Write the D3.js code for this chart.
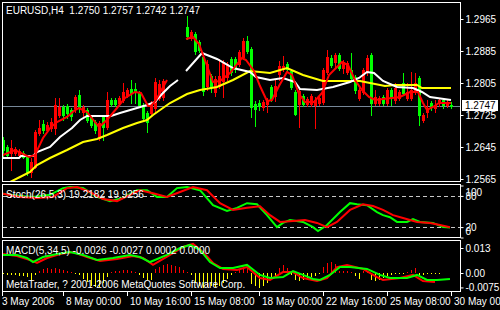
<!DOCTYPE html>
<head>
  <meta charset="utf-8">
  <script src="https://d3js.org/d3.v7.min.js"></script>
  <style>
    body { margin: 0; background: #000; }
    svg { display: block; background: #000; }
    text { font-family: "Liberation Sans", Arial, sans-serif; font-size: 10px; fill: #fff; white-space: pre; }
  </style>
</head>
<body>
  <svg width="500" height="310"></svg>
  <script>
    // EURUSD H4, one row per bar: [open, high, low, close], null = empty slot
    var candles = [
      [1.2638,1.2645,1.2630,1.2642],[1.2662,1.2670,1.2620,1.2637],[1.2645,1.2650,1.2622,1.2625],
      [1.2630,1.2662,1.2587,1.2642],[1.2630,1.2645,1.2625,1.2640],[1.2625,1.2640,1.2620,1.2635],
      [1.2630,1.2635,1.2617,1.2620],[1.2620,1.2625,1.2575,1.2582],[1.2582,1.2617,1.2570,1.2607],
      [1.2595,1.2687,1.2592,1.2682],[1.2680,1.2712,1.2675,1.2692],[1.2702,1.2712,1.2680,1.2687],
      [1.2687,1.2707,1.2682,1.2700],[1.2692,1.2717,1.2685,1.2707],[1.2692,1.2767,1.2677,1.2750],
      [1.2725,1.2767,1.2720,1.2745],[1.2745,1.2750,1.2712,1.2725],[1.2747,1.2752,1.2717,1.2730],
      [1.2737,1.2742,1.2712,1.2722],[1.2742,1.2775,1.2732,1.2770],[1.2775,1.2787,1.2732,1.2742],
      [1.2732,1.2750,1.2717,1.2745],[1.2737,1.2742,1.2707,1.2712],[1.2720,1.2725,1.2695,1.2700],
      [1.2707,1.2712,1.2680,1.2687],[1.2667,1.2710,1.2662,1.2705],[1.2720,1.2725,1.2662,1.2695],
      [1.2695,1.2782,1.2690,1.2762],[1.2762,1.2767,1.2747,1.2752],[1.2762,1.2767,1.2747,1.2752],
      [1.2755,1.2772,1.2750,1.2767],[1.2762,1.2805,1.2757,1.2782],[1.2775,1.2792,1.2770,1.2787],
      [1.2790,1.2812,1.2755,1.2780],[1.2790,1.2805,1.2755,1.2782],[1.2780,1.2785,1.2745,1.2750],
      [1.2750,1.2755,1.2712,1.2717],[1.2730,1.2735,1.2682,1.2707],[1.2730,1.2760,1.2725,1.2755],
      [1.2742,1.2817,1.2732,1.2807],[1.2767,1.2812,1.2762,1.2802],[1.2770,1.2815,1.2762,1.2810],
      null, null, null, null, null,
      [1.2945,1.2972,1.2915,1.2922],[1.2917,1.2937,1.2912,1.2932],[1.2927,1.2932,1.2877,1.2885],
      [1.2907,1.2912,1.2882,1.2887],[1.2870,1.2875,1.2775,1.2785],[1.2797,1.2862,1.2787,1.2852],
      [1.2822,1.2827,1.2782,1.2795],[1.2782,1.2822,1.2772,1.2815],[1.2797,1.2865,1.2792,1.2822],
      [1.2810,1.2862,1.2770,1.2857],[1.2820,1.2857,1.2812,1.2852],[1.2865,1.2870,1.2825,1.2832],
      [1.2865,1.2870,1.2832,1.2840],[1.2852,1.2887,1.2847,1.2882],[1.2870,1.2917,1.2865,1.2910],
      [1.2910,1.2922,1.2880,1.2885],[1.2890,1.2895,1.2720,1.2745],[1.2752,1.2760,1.2697,1.2740],
      [1.2755,1.2762,1.2737,1.2747],[1.2745,1.2762,1.2737,1.2757],[1.2752,1.2767,1.2732,1.2762],
      [1.2795,1.2800,1.2760,1.2765],[1.2772,1.2815,1.2760,1.2797],[1.2827,1.2860,1.2812,1.2847],
      [1.2840,1.2872,1.2835,1.2847],[1.2852,1.2857,1.2835,1.2840],[1.2835,1.2840,1.2790,1.2795],
      [1.2782,1.2787,1.2725,1.2727],[1.2752,1.2790,1.2695,1.2785],[1.2772,1.2777,1.2747,1.2752],
      [1.2752,1.2770,1.2747,1.2765],[1.2752,1.2777,1.2747,1.2772],[1.2750,1.2770,1.2692,1.2762],
      [1.2755,1.2772,1.2750,1.2767],[1.2757,1.2842,1.2752,1.2837],[1.2832,1.2887,1.2827,1.2870],
      [1.2867,1.2875,1.2845,1.2850],[1.2857,1.2880,1.2845,1.2875],[1.2875,1.2880,1.2837,1.2842],
      [1.2842,1.2862,1.2830,1.2857],[1.2832,1.2860,1.2827,1.2855],[1.2837,1.2880,1.2812,1.2817],
      [1.2820,1.2825,1.2780,1.2787],[1.2767,1.2792,1.2762,1.2787],[1.2782,1.2842,1.2777,1.2837],
      [1.2832,1.2875,1.2825,1.2867],[1.2875,1.2880,1.2725,1.2755],[1.2755,1.2787,1.2750,1.2770],
      [1.2755,1.2772,1.2750,1.2767],[1.2770,1.2775,1.2750,1.2755],[1.2755,1.2792,1.2750,1.2787],
      [1.2787,1.2792,1.2750,1.2767],[1.2762,1.2805,1.2755,1.2792],[1.2767,1.2787,1.2762,1.2782],
      [1.2805,1.2830,1.2775,1.2780],[1.2767,1.2805,1.2762,1.2782],[1.2767,1.2832,1.2762,1.2787],
      [1.2782,1.2830,1.2777,1.2805],[1.2817,1.2822,1.2700,1.2725],[1.2712,1.2730,1.2707,1.2725],
      [1.2732,1.2762,1.2720,1.2742],[1.2755,1.2760,1.2737,1.2745],[1.2742,1.2762,1.2732,1.2750],
      [1.2755,1.2767,1.2747,1.2762],[1.2762,1.2767,1.2742,1.2750],[1.2750,1.2762,1.2745,1.2757],
      [1.2750,1.2757,1.2742,1.2747]
    ];

    // moving averages: [bar, price]
    var maRed = [[1,1.2625],[4,1.26375],[7.5,1.2620],[9,1.2625],[11,1.26675],[13,1.2695],[14.5,1.27075],
      [17,1.2720],[19,1.27375],[20,1.27425],[22,1.27325],[24,1.27075],[25,1.2695],[27,1.27125],
      [29.5,1.27425],[31.5,1.27675],[34,1.27825],[35.5,1.2780],[37.25,1.27475],[38,1.27475],
      [39.25,1.27625],[42,1.28125],[44,null],[46.75,1.2915],[48.5,1.2920],[50,1.29025],[53.5,1.28075],
      [55.25,1.2810],[57.75,1.2830],[60.75,1.28675],[61.75,1.28625],[63.75,1.2835],[65.25,1.27975],
      [67,1.2760],[68.25,1.27625],[70,1.27975],[72,1.28325],[73.25,1.2825],[75,1.27775],[76.5,1.27575],
      [78.75,1.27575],[80.75,1.2780],[82.5,1.2825],[85.75,1.28575],[87.25,1.2850],[89,1.28125],
      [90.75,1.27875],[92.5,1.2770],[94,1.27625],[98.25,1.27675],[100.25,1.2770],[102.75,1.27825],
      [104.75,1.27825],[106,1.2755],[107,1.27375],[108.5,1.2745],[110,1.2755],[113,1.2755]];
    var maWhite = [[1,1.26175],[5,1.26175],[5.5,1.26225],[8.5,1.26225],[9.5,1.26325],[12.75,1.2645],
      [15.25,1.2670],[18.25,1.26925],[20.25,1.27125],[22,1.27225],[28,1.27225],[30.25,1.2730],
      [34.5,1.27425],[37,1.2750],[39,1.27575],[40.75,1.27775],[42.75,1.27975],[44.75,1.28125],
      [45.5,null],[46.75,1.2835],[50.75,1.2880],[54.5,1.2865],[58.5,1.28425],[62.75,1.28325],
      [64.25,1.2820],[67.75,1.28125],[71,1.28175],[74,1.28075],[75.25,1.2790],[79.5,1.27875],
      [83.5,1.2795],[87.75,1.28075],[90,1.28175],[92,1.28325],[93.75,1.2830],[96,1.2810],
      [99.5,1.2795],[103.5,1.27925],[105.75,1.27825],[107.75,1.2770],[113,1.27625]];
    var maYellow = [[2.75,1.25575],[5.25,1.2570],[7.75,1.25825],[9.5,1.2600],[12.75,1.26175],
      [17,1.26375],[21,1.26575],[24.5,1.2665],[27,1.2675],[31,1.26925],[34.5,1.2705],[37,1.27125],
      [38.5,1.2725],[42.75,1.2755],[47,1.27775],[50.25,1.27875],[54.5,1.2795],[58.5,1.28125],
      [62.75,1.2835],[67.75,1.2830],[72,1.28425],[76,1.2825],[81,1.2810],[90.25,1.2810],
      [96.5,1.27975],[99,1.2800],[104.5,1.2800],[105.75,1.27925],[113,1.27925]];

    // Stochastic(26,5,3): [bar, value]
    var stochMain = [[1,84],[5.25,80],[8.5,78],[12.75,82],[16,95],[17.75,97],[21,95],[24.5,78],
      [27.75,70],[31,76],[34.5,91],[37,91],[39.5,78],[42,78],[44.5,95],[47,97],[50.25,91],
      [53.5,62],[57,51],[59.5,57],[62,66],[64.5,64],[67,43],[69.5,20],[71,28],[72.75,33.5],
      [76,30],[78.5,20],[79.75,12.5],[82,24],[85.25,49],[87.75,66],[89.5,64],[92,62],[94.5,49],
      [96,43],[97.75,39],[99.5,30],[102,30],[103.5,35.5],[105.25,30],[108.5,28],[111,20],[112.75,19.2]];
    var stochSignal = [[1,84],[5.25,78],[9.5,76],[13.5,78],[17,95],[19.5,97],[22.75,87.5],[26,74],
      [29.5,70],[32.75,82],[35.25,91],[38.5,85],[42,78],[45.25,87.5],[48.5,97],[52,91],[55.25,66],
      [58.5,53],[62,57],[65.25,60],[67.75,43],[70.25,30],[73.5,31.7],[76.5,33.5],[79.5,28],[82,20],
      [84.5,30],[87.75,53],[91,64],[93.5,60.5],[96,53],[98.5,43],[101,37.5],[104.5,30],[107.75,28],
      [110.25,24],[112.75,19.9]];

    // MACD(5,34,5): lines [bar, value], histogram one value per bar
    var macdGreen = [[1,0.0094],[4.5,0.0094],[7,0.0078],[8.5,0.0057],[11,0.0083],[14.5,0.0099],
      [17.75,0.0109],[21,0.0094],[24.5,0.0068],[28.5,0.0078],[32.75,0.0094],[35.25,0.0083],
      [37.75,0.0057],[42,0.0094],[45.25,0.0130],[47.75,0.0146],[50.25,0.0120],[52.75,0.0057],
      [55.25,0.0026],[58.5,0.0026],[62,0.0042],[65.25,-0.0010],[67.75,-0.0026],[71,-0.0021],
      [73.5,0.0010],[76,-0.0010],[78.5,-0.0031],[80.25,-0.0036],[82.75,-0.0010],[85.25,0.0031],
      [87.75,0.0031],[92,0.0021],[95.25,-0.0010],[97.75,-0.0026],[102,-0.0026],[104.5,-0.0010],
      [107,-0.0036],[109.5,-0.0036],[112.75,-0.0031]];
    var macdRed = [[1,0.0099],[4.5,0.0088],[7.75,0.0068],[9.5,0.0052],[12,0.0078],[15.25,0.0099],
      [18.5,0.0109],[22,0.0083],[25.25,0.0062],[29.5,0.0073],[33.5,0.0088],[36,0.0078],[38.5,0.0042],
      [42.75,0.0094],[46,0.0135],[48.5,0.0151],[51,0.0109],[53.5,0.0052],[56,0.0021],[59.5,0.0016],
      [62,0.0031],[65.25,-0.0026],[67.75,-0.0036],[71,0.0005],[73.5,0.0005],[76,-0.0026],
      [79.5,-0.0042],[82,-0.0026],[84.5,0.0031],[87,0.0042],[91,0.0021],[94.5,-0.0021],[96,-0.0036],
      [100.25,-0.0026],[103.5,-0.0010],[106,-0.0042],[109,-0.0047]];
    var macdHist = [-0.0005,-0.0005,-0.0012,-0.0012,-0.0012,-0.0015,-0.0015,-0.0020,-0.0036,-0.0010,
      0.0010,0.0020,0.0026,0.0020,0.0026,0.0020,0.0016,0.0010,0.0005,-0.0005,
      -0.0010,-0.0031,-0.0047,-0.0068,-0.0073,-0.0073,-0.0052,-0.0021,0.0005,0.0010,
      0.0010,0.0016,0.0016,0.0010,0.0005,-0.0010,-0.0026,-0.0036,-0.0036,0.0021,
      0.0031,0.0042,0.0047,0.0042,0.0036,0.0031,0.0016,0.0005,-0.0010,-0.0052,
      -0.0068,-0.0078,-0.0073,-0.0068,-0.0073,-0.0068,-0.0052,-0.0031,-0.0010,0.0005,
      0.0016,0.0026,0.0031,-0.0057,-0.0068,-0.0078,-0.0068,-0.0052,-0.0031,-0.0016,
      0.0026,0.0042,0.0026,-0.0010,-0.0036,-0.0042,-0.0036,-0.0026,-0.0021,-0.0016,
      -0.0005,0.0031,0.0052,0.0057,0.0047,0.0010,0.0010,0.0010,0.0005,-0.0016,
      -0.0031,0.0010,0.0005,-0.0036,-0.0042,-0.0036,-0.0026,-0.0016,-0.0010,-0.0005,
      -0.0005,-0.0005,0.0005,0.0016,0.0026,-0.0016,-0.0010,-0.0005,-0.0005,-0.0005,
      -0.0005,0,0,0];

    var priceTicks = [1.2565, 1.2645, 1.2725, 1.2805, 1.2885, 1.2965];
    var lastPrice = 1.2747;
    var stochLevels = [0, 20, 80, 100];
    var macdTicks = [0.013, 0, -0.0075];
    var macdTickLabels = ['0.013', '0.00', '-0.0075'];
    var timeBars = [0, 16, 32, 48, 65, 81, 97, 113];
    var timeLabels = ['3 May 2006', '8 May 00:00', '10 May 16:00', '15 May 08:00',
      '18 May 00:00', '22 May 16:00', '25 May 08:00', '30 May 00:00'];

    var svg = d3.select('svg');
    var left = 3, right = 461;
    var mainBox = [2.5, 181.5], stochBox = [184.5, 237.5], macdBox = [240.5, 291.5];

    var x = d3.scaleLinear().domain([0, 113]).range([-1, 451]);
    var yPrice = d3.scaleLinear().domain([1.2565, 1.2965]).range([179, 19]);
    var yStoch = d3.scaleLinear().domain([0, 100]).range([237.5, 185.5]);
    var yMacd = d3.scaleLinear().domain([0, 0.013]).range([273, 248]);

    var defs = svg.append('defs');
    function panel(id, box) {
      defs.append('clipPath').attr('id', id).append('rect')
        .attr('x', left).attr('y', box[0] + 0.5)
        .attr('width', right - left - 0.5).attr('height', box[1] - box[0] - 1);
      return svg.append('g').attr('clip-path', 'url(#' + id + ')');
    }

    // ---- main price panel
    var main = panel('clipMain', mainBox);
    main.append('line')
      .attr('x1', left).attr('x2', right)
      .attr('y1', Math.round(yPrice(lastPrice)) + 0.5).attr('y2', Math.round(yPrice(lastPrice)) + 0.5)
      .attr('stroke', '#778899');

    var bars = main.selectAll('g.candle')
      .data(candles.map(function(d, i) { return d ? {i: i, o: d[0], h: d[1], l: d[2], c: d[3]} : null; })
        .filter(function(d) { return d; }))
      .enter().append('g').classed('candle', true)
      .attr('shape-rendering', 'crispEdges')
      .attr('fill', function(d) { return d.c > d.o ? '#ff0000' : '#00ff00'; })
      .attr('stroke', function(d) { return d.c > d.o ? '#ff0000' : '#00ff00'; });
    bars.append('line')
      .attr('x1', function(d) { return x(d.i) + 0.5; })
      .attr('x2', function(d) { return x(d.i) + 0.5; })
      .attr('y1', function(d) { return Math.round(yPrice(d.h)); })
      .attr('y2', function(d) { return Math.round(yPrice(d.l)) + 1; });
    bars.append('rect')
      .attr('stroke', 'none')
      .attr('x', function(d) { return x(d.i) - 1; })
      .attr('width', 3)
      .attr('y', function(d) { return Math.round(yPrice(Math.max(d.o, d.c))); })
      .attr('height', function(d) {
        return Math.max(1, Math.round(yPrice(Math.min(d.o, d.c))) - Math.round(yPrice(Math.max(d.o, d.c))) + 1);
      });

    var priceLine = d3.line()
      .defined(function(d) { return d[1] !== null; })
      .x(function(d) { return x(d[0]); })
      .y(function(d) { return yPrice(d[1]); });
    [[maYellow, '#ffff00'], [maWhite, '#ffffff'], [maRed, '#ff0000']].forEach(function(s) {
      main.append('path').attr('d', priceLine(s[0]))
        .attr('fill', 'none').attr('stroke', s[1]).attr('stroke-width', 2);
    });

    // ---- stochastic panel
    var stoch = panel('clipStoch', stochBox);
    stoch.selectAll('line.level').data([20, 80]).enter().append('line')
      .attr('x1', left).attr('x2', right)
      .attr('y1', function(d) { return Math.round(yStoch(d)) + 0.5; })
      .attr('y2', function(d) { return Math.round(yStoch(d)) + 0.5; })
      .attr('stroke', '#c8c8c8').attr('stroke-dasharray', '4,3');
    var stochLine = d3.line()
      .x(function(d) { return x(d[0]); })
      .y(function(d) { return yStoch(d[1]); });
    [[stochMain, '#00ff00'], [stochSignal, '#ff0000']].forEach(function(s) {
      stoch.append('path').attr('d', stochLine(s[0]))
        .attr('fill', 'none').attr('stroke', s[1]).attr('stroke-width', 2);
    });

    // ---- MACD panel
    var macd = panel('clipMacd', macdBox);
    macd.selectAll('line.hist').data(macdHist).enter().append('line')
      .attr('shape-rendering', 'crispEdges')
      .attr('x1', function(d, i) { return x(i) + 0.5; })
      .attr('x2', function(d, i) { return x(i) + 0.5; })
      .attr('y1', yMacd(0))
      .attr('y2', function(d) { return Math.round(yMacd(d)); })
      .attr('stroke', function(d) { return d >= 0 ? '#ff0000' : '#ffff00'; });
    var macdLine = d3.line()
      .x(function(d) { return x(d[0]); })
      .y(function(d) { return yMacd(d[1]); });
    [[macdRed, '#ff0000'], [macdGreen, '#00ff00']].forEach(function(s) {
      macd.append('path').attr('d', macdLine(s[0]))
        .attr('fill', 'none').attr('stroke', s[1]).attr('stroke-width', 2);
    });

    // ---- frames
    [mainBox, stochBox, macdBox].forEach(function(b) {
      svg.append('rect')
        .attr('x', 2.5).attr('y', b[0])
        .attr('width', right - 2.5 - 0.5).attr('height', b[1] - b[0])
        .attr('fill', 'none').attr('stroke', '#fff');
    });

    // ---- right axes
    function rightAxis(scale, values, fmt) {
      var g = svg.append('g').attr('transform', 'translate(' + (right - 0.5) + ',0)')
        .call(d3.axisRight(scale).tickValues(values).tickFormat(fmt).tickSize(3).tickPadding(2));
      g.select('.domain').remove();
      g.selectAll('line').attr('stroke', '#fff');
      g.selectAll('text').attr('fill', '#fff').attr('font-family', null).attr('font-size', null);
      return g;
    }
    rightAxis(yPrice, priceTicks, d3.format('.4f'));
    var sAxis = rightAxis(yStoch, stochLevels, d3.format('d'));
    sAxis.selectAll('.tick text').attr('dy', function(d) {
      return d === 100 ? '0.95em' : d === 0 ? '-0.3em' : '0.32em';
    });
    rightAxis(yMacd, macdTicks, function(d, i) { return macdTickLabels[i]; });

    // current price tag
    var tagY = Math.round(yPrice(lastPrice));
    svg.append('rect').attr('x', 462).attr('y', tagY - 6).attr('width', 36).attr('height', 11).attr('fill', '#fff');
    svg.append('text').attr('x', 465).attr('y', tagY + 3).style('fill', '#000').text(d3.format('.4f')(lastPrice));

    // ---- time axis
    svg.selectAll('line.tt').data(timeBars).enter().append('line')
      .attr('x1', function(d) { return Math.max(x(d), 2) + 0.5; })
      .attr('x2', function(d) { return Math.max(x(d), 2) + 0.5; })
      .attr('y1', 291.5).attr('y2', 296)
      .attr('stroke', '#fff');
    svg.selectAll('text.tl').data(timeBars).enter().append('text')
      .attr('x', function(d) { return Math.max(x(d), -1) + 3; })
      .attr('y', 305)
      .text(function(d, i) { return timeLabels[i]; });

    // ---- panel captions
    svg.append('text').attr('x', 6).attr('y', 14).text('EURUSD,H4  1.2750 1.2757 1.2742 1.2747');
    svg.append('text').attr('x', 6).attr('y', 198).text('Stoch(26,5,3) 19.2182 19.9256');
    svg.append('text').attr('x', 6).attr('y', 254).text('MACD(5,34,5) -0.0026 -0.0027 0.0002 0.0000');
    svg.append('text').attr('x', 6).attr('y', 288).text('MetaTrader, ? 2001-2006 MetaQuotes Software Corp.');
  </script>
</body>
